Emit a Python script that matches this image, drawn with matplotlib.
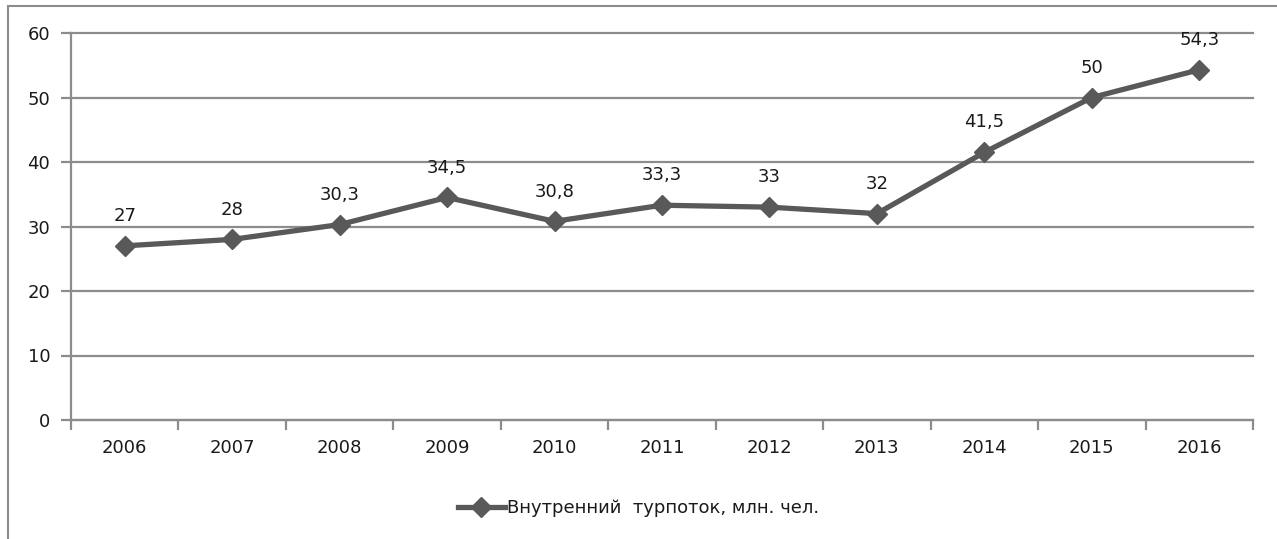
import matplotlib
matplotlib.use("Agg")
import matplotlib.pyplot as plt
from matplotlib.lines import Line2D

years = ["2006", "2007", "2008", "2009", "2010", "2011", "2012", "2013", "2014", "2015", "2016"]
values = [27, 28, 30.3, 34.5, 30.8, 33.3, 33, 32, 41.5, 50, 54.3]
labels = ["27", "28", "30,3", "34,5", "30,8", "33,3", "33", "32", "41,5", "50", "54,3"]
series_name = "Внутренний  турпоток, млн. чел."
yticks = [0, 10, 20, 30, 40, 50, 60]

W, H = 1277, 539
fig = plt.figure(figsize=(W / 100, H / 100), dpi=100)
fig.patch.set_facecolor("white")

# outer frame (left and top only visible)
fig.add_artist(Line2D([8 / W, 8 / W], [0, 1 - 6 / H], color="#8c8c8c", lw=1.5))
fig.add_artist(Line2D([8 / W, 1], [1 - 6 / H, 1 - 6 / H], color="#8c8c8c", lw=1.5))

left, right, top, bottom = 71, 1253, 33, 420
ax = fig.add_axes([left / W, 1 - bottom / H, (right - left) / W, (bottom - top) / H])

x = list(range(len(years)))
line_color = "#595959"
ax.plot(x, values, color=line_color, lw=3.8, marker="D", markersize=10.5,
        markerfacecolor=line_color, markeredgecolor=line_color, zorder=3,
        label=series_name)

for xi, v, lab in zip(x, values, labels):
    ax.annotate(lab, (xi, v), xytext=(0, 15), textcoords="offset points",
                ha="center", va="bottom", fontsize=13, color="#1a1a1a")

ax.set_xlim(-0.5, len(years) - 0.5)
ax.set_ylim(0, 60)
ax.set_yticks(yticks)
ax.set_yticklabels([str(t) for t in yticks], fontsize=13, color="#1a1a1a")
ax.yaxis.grid(True, color="#8c8c8c", lw=1.6)
for gl in ax.yaxis.get_gridlines():
    gl.set_clip_on(False)
ax.set_axisbelow(True)

ax.set_xticks(x)
ax.set_xticklabels(years, fontsize=13, color="#1a1a1a")
ax.set_xticks([i - 0.5 for i in range(len(years) + 1)], minor=True)
ax.tick_params(axis="x", which="major", length=0, pad=14)
ax.tick_params(axis="x", which="minor", length=7, width=1.6, color="#8c8c8c")
ax.tick_params(axis="y", length=7, width=1.6, color="#8c8c8c", pad=8)

for s in ["top", "right"]:
    ax.spines[s].set_visible(False)
for s in ["left", "bottom"]:
    ax.spines[s].set_color("#8c8c8c")
    ax.spines[s].set_linewidth(1.6)

fig.legend(loc="center", bbox_to_anchor=(0.500, 1 - 508 / H), frameon=False,
           fontsize=13, handlelength=2.6, handletextpad=0.15, labelcolor="#1a1a1a")

fig.savefig("out.png", dpi=100, facecolor="white")
